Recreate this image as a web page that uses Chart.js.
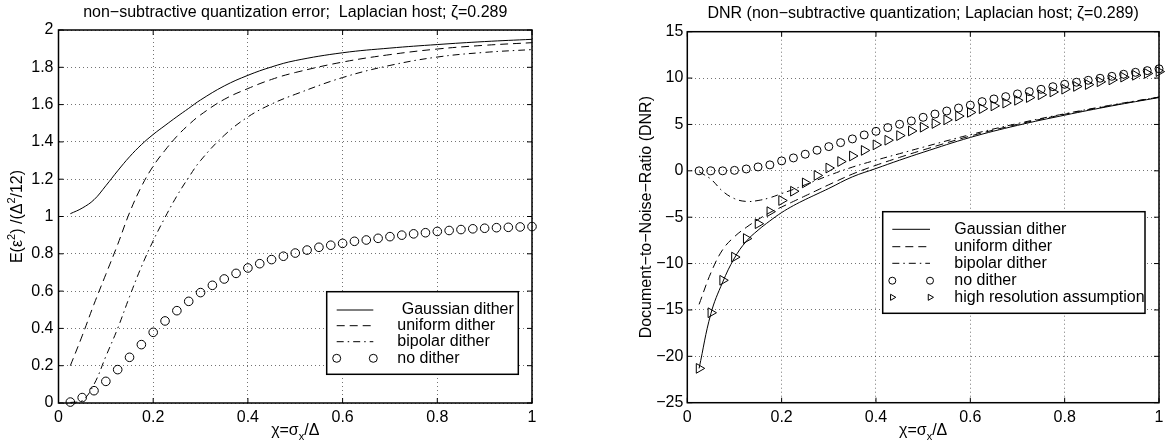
<!DOCTYPE html>
<html>
<head>
<meta charset="utf-8">
<script src="https://cdn.jsdelivr.net/npm/chart.js@4.4.0/dist/chart.umd.min.js"></script>
<style>
    body { margin: 0; background: #fff; }
    canvas { position: absolute; top: 0; }
    #errChart { left: 0; }
    #dnrChart { left: 586px; }
</style>
</head>
<body>
<canvas id="errChart" width="586" height="447"></canvas>
<canvas id="dnrChart" width="586" height="447"></canvas>
<script>
'use strict';
// marker series are sampled every 0.025
const chi = [0.025, 0.05, 0.075, 0.1, 0.125, 0.15, 0.175, 0.2, 0.225, 0.25,
    0.275, 0.3, 0.325, 0.35, 0.375, 0.4, 0.425, 0.45, 0.475, 0.5,
    0.525, 0.55, 0.575, 0.6, 0.625, 0.65, 0.675, 0.7, 0.725, 0.75,
    0.775, 0.8, 0.825, 0.85, 0.875, 0.9, 0.925, 0.95, 0.975, 1.0];
// curves read at these points
const lineChi = [0.025, 0.05, 0.075, 0.1, 0.125, 0.15, 0.175, 0.2, 0.225, 0.25, 0.275, 0.3,
    0.35, 0.4, 0.45, 0.5, 0.6, 0.7, 0.8, 0.9, 1.0];

// left: E(eps^2)/(Delta^2/12)
const errGauss = [1.015, 1.045, 1.09, 1.165, 1.245, 1.32, 1.385, 1.44, 1.488, 1.535, 1.58, 1.625,
    1.70, 1.757, 1.802, 1.836, 1.878, 1.903, 1.922, 1.938, 1.95];
const errUniform = [0.2, 0.36, 0.53, 0.69, 0.85, 1.02, 1.16, 1.27, 1.355, 1.43, 1.492, 1.545,
    1.628, 1.686, 1.735, 1.772, 1.828, 1.868, 1.898, 1.918, 1.932];
const errBipolar = [0.003, 0.012, 0.1, 0.25, 0.4, 0.57, 0.73, 0.87, 0.995, 1.11, 1.21, 1.3,
    1.435, 1.534, 1.603, 1.655, 1.745, 1.81, 1.855, 1.88, 1.895];
const errNone = [0.005, 0.029, 0.066, 0.116, 0.179, 0.245, 0.313, 0.379, 0.44, 0.495,
    0.545, 0.592, 0.631, 0.665, 0.695, 0.724, 0.747, 0.769, 0.787, 0.804,
    0.82, 0.835, 0.846, 0.856, 0.867, 0.874, 0.883, 0.892, 0.9, 0.907,
    0.913, 0.92, 0.925, 0.93, 0.934, 0.937, 0.94, 0.942, 0.944, 0.946];

// right: DNR
const dnrGauss = [-21.3, -15.4, -12.0, -9.4, -7.6, -6.4, -5.4, -4.5, -3.75, -3.1, -2.5, -1.9,
    -0.65, 0.25, 1.15, 2.0, 3.6, 4.9, 6.0, 7.0, 7.9];
const dnrUniform = [-14.4, -11.0, -8.5, -7.1, -6.1, -5.25, -4.5, -3.9, -3.3, -2.7, -2.1, -1.5,
    -0.35, 0.6, 1.45, 2.25, 3.75, 5.0, 6.1, 7.05, 7.95];
const dnrBipolar = [-0.1, -0.9, -2.2, -3.0, -3.3, -3.2, -2.9, -2.45, -2.0, -1.5, -1.0, -0.5,
    0.4, 1.15, 1.85, 2.55, 3.9, 5.1, 6.15, 7.1, 7.95];
const dnrNone = [0, 0, 0, 0.05, 0.2, 0.42, 0.64, 1.07, 1.39, 1.79,
    2.22, 2.61, 3.04, 3.44, 3.87, 4.26, 4.66, 5.02, 5.38, 5.77,
    6.12, 6.45, 6.77, 7.08, 7.46, 7.75, 8.0, 8.29, 8.54, 8.79,
    9.07, 9.33, 9.55, 9.76, 9.98, 10.19, 10.41, 10.62, 10.8, 11.0];
const dnrHighRes = [-21.3, -15.3, -11.8, -9.3, -7.3, -5.7, -4.4, -3.2, -2.2, -1.3,
    -0.5, 0.3, 1.0, 1.6, 2.2, 2.8, 3.3, 3.8, 4.3, 4.7,
    5.1, 5.5, 5.9, 6.3, 6.7, 7.0, 7.3, 7.6, 7.9, 8.2,
    8.5, 8.8, 9.1, 9.3, 9.6, 9.8, 10.1, 10.3, 10.5, 10.7];

const FONT = '"Liberation Sans", Arial, Helvetica, sans-serif';
const SIZE = 16;
const pts = (xs, ys) => xs.map((x, i) => ({ x: x, y: ys[i] }));

function lineSet(label, ys, dash) {
    return {
        label: label, data: pts(lineChi, ys),
        borderColor: '#000', borderWidth: 1, borderDash: dash,
        pointRadius: 0, fill: false, tension: 0.4,
    };
}
function markSet(label, ys, style, r) {
    return {
        label: label, data: pts(chi, ys), showLine: false, clip: false,
        pointStyle: style, pointRotation: style === 'triangle' ? 90 : 0,
        pointRadius: r, pointBorderWidth: 1,
        pointBorderColor: '#000', pointBackgroundColor: 'rgba(0,0,0,0)',
    };
}

// text with sub/superscripts, centred on x
function rich(ctx, parts, x, y) {
    const small = Math.round(SIZE * 0.7);
    const fontOf = (p) => (p[1] ? small : SIZE) + 'px ' + FONT;
    let w = 0;
    parts.forEach((p) => { ctx.font = fontOf(p); w += ctx.measureText(p[0]).width; });
    let cx = x - w / 2;
    parts.forEach((p) => {
        ctx.font = fontOf(p);
        const dy = p[1] === 'sup' ? -SIZE * 0.4 : p[1] === 'sub' ? SIZE * 0.3 : 0;
        ctx.fillText(p[0], cx, y + dy);
        cx += ctx.measureText(p[0]).width;
    });
}

function marker(ctx, style, x, y, r) {
    ctx.beginPath();
    if (style === 'circle') {
        ctx.arc(x, y, r, 0, Math.PI * 2);
    } else {
        // right-pointing triangle, like the rotated chart marker
        for (let k = 0; k < 3; k++) {
            const a = Math.PI / 2 + k * 2 * Math.PI / 3;
            const px = x + Math.sin(a) * r, py = y - Math.cos(a) * r;
            if (k) ctx.lineTo(px, py); else ctx.moveTo(px, py);
        }
        ctx.closePath();
    }
    ctx.stroke();
}

const frame = {
    id: 'frame',
    afterDraw(chart, args, o) {
        const { ctx, chartArea: a, scales: { x, y } } = chart;
        ctx.save();
        ctx.strokeStyle = '#000';
        ctx.fillStyle = '#000';
        ctx.lineWidth = 1;
        ctx.beginPath();
        x.ticks.forEach((t) => {
            const p = x.getPixelForValue(t.value);
            ctx.moveTo(p, a.bottom); ctx.lineTo(p, a.bottom - 5);
            ctx.moveTo(p, a.top); ctx.lineTo(p, a.top + 5);
        });
        y.ticks.forEach((t) => {
            const p = y.getPixelForValue(t.value);
            ctx.moveTo(a.left, p); ctx.lineTo(a.left + 5, p);
            ctx.moveTo(a.right, p); ctx.lineTo(a.right - 5, p);
        });
        ctx.stroke();
        ctx.lineWidth = 1.5;
        ctx.strokeRect(a.left, a.top, a.width, a.height);

        ctx.textAlign = 'left';
        ctx.textBaseline = 'alphabetic';
        const mid = (a.left + a.right) / 2;
        rich(ctx, [[o.title]], mid, o.titleY);
        rich(ctx, [['χ=σ'], ['x', 'sub'], ['/Δ']], mid, 435);
        ctx.save();
        ctx.translate(o.yTitleX, (a.top + a.bottom) / 2);
        ctx.rotate(-Math.PI / 2);
        rich(ctx, o.yTitle, 0, 0);
        ctx.restore();

        // legend box
        const L = o.legend;
        ctx.fillStyle = '#fff';
        ctx.fillRect(L.box[0], L.box[1], L.box[2] - L.box[0], L.box[3] - L.box[1]);
        ctx.strokeRect(L.box[0], L.box[1], L.box[2] - L.box[0], L.box[3] - L.box[1]);
        ctx.fillStyle = '#000';
        ctx.font = SIZE + 'px ' + FONT;
        ctx.textBaseline = 'middle';
        ctx.lineWidth = 1;
        chart.data.datasets.forEach((ds, i) => {
            const yy = L.rows[i];
            if (ds.showLine === false) {
                marker(ctx, ds.pointStyle, L.sx[0], yy, L.mr);
                marker(ctx, ds.pointStyle, L.sx[1], yy, L.mr);
            } else {
                ctx.setLineDash(ds.borderDash || []);
                ctx.beginPath();
                ctx.moveTo(L.sx[0], yy); ctx.lineTo(L.sx[1], yy);
                ctx.stroke();
                ctx.setLineDash([]);
            }
            ctx.fillText(ds.label, L.tx, yy);
        });
        ctx.restore();
    },
};

function axis(min, max, step, pad, size, isX) {
    return {
        type: 'linear', min: min, max: max,
        ticks: {
            stepSize: step, padding: pad, color: '#000',
            font: { family: FONT, size: SIZE },
            callback: (v) => String(Math.round(v * 1000) / 1000).replace('-', '\u2212'),
        },
        grid: { color: 'rgba(0,0,0,0.55)', lineWidth: 1, drawTicks: false },
        border: { display: false, dash: [1, 3] },
        afterFit: (s) => { if (isX) s.height = size; else s.width = size; },
    };
}

const DASH = [8, 5];
const DASHDOT = [7, 4, 1.5, 4];

new Chart(document.getElementById('errChart'), {
    type: 'line',
    data: {
        datasets: [
            lineSet(' Gaussian dither', errGauss, []),
            lineSet('uniform dither', errUniform, DASH),
            lineSet('bipolar dither', errBipolar, DASHDOT),
            markSet('no dither', errNone, 'circle', 4.3),
        ],
    },
    options: {
        responsive: false, animation: false, devicePixelRatio: 1,
        layout: { padding: { left: 0, top: 30, right: 54, bottom: 0 } },
        scales: { x: axis(0, 1, 0.2, 5, 44, true), y: axis(0, 2, 0.2, 5, 58.5, false) },
        plugins: {
            legend: { display: false }, tooltip: { enabled: false },
            frame: {
                title: 'non\u2212subtractive quantization error;  Laplacian host; ζ=0.289',
                titleY: 17, yTitleX: 21.5,
                yTitle: [['E(ε'], ['2', 'sup'], [') /(Δ'], ['2', 'sup'], ['/12)']],
                legend: {
                    box: [326.7, 291.7, 518.3, 374.3], rows: [310, 325.7, 341.7, 358.3],
                    sx: [336.7, 373.3], tx: 397.3, mr: 4,
                },
            },
        },
    },
    plugins: [frame],
});

new Chart(document.getElementById('dnrChart'), {
    type: 'line',
    data: {
        datasets: [
            lineSet('Gaussian dither', dnrGauss, []),
            lineSet('uniform dither', dnrUniform, DASH),
            lineSet('bipolar dither', dnrBipolar, DASHDOT),
            markSet('no dither', dnrNone, 'circle', 4),
            markSet('high resolution assumption', dnrHighRes, 'triangle', 5.6),
        ],
    },
    options: {
        responsive: false, animation: false, devicePixelRatio: 1,
        layout: { padding: { left: 0, top: 31.7, right: 13, bottom: 0 } },
        scales: { x: axis(0, 1, 0.2, 5, 44.3, true), y: axis(-25, 15, 5, 4, 101.3, false) },
        plugins: {
            legend: { display: false }, tooltip: { enabled: false },
            frame: {
                title: 'DNR (non\u2212subtractive quantization; Laplacian host; ζ=0.289)',
                titleY: 18, yTitleX: 65,
                yTitle: [['Document\u2212to\u2212Noise\u2212Ratio (DNR)']],
                legend: {
                    box: [296.7, 211.7, 559, 313.3], rows: [229.3, 246.7, 263.3, 280.7, 297.3],
                    sx: [306.3, 344], tx: 368.3, mr: 3.5,
                },
            },
        },
    },
    plugins: [frame],
});
</script>
</body>
</html>
